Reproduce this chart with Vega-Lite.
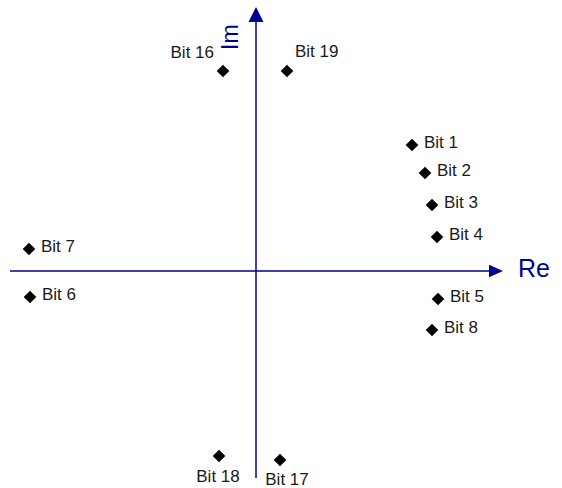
{
  "$schema": "https://vega.github.io/schema/vega-lite/v6.json",
  "width": 562,
  "height": 488,
  "padding": 0,
  "autosize": "none",
  "background": "white",
  "config": {"view": {"stroke": null}},
  "data": {
    "values": [
      {"label": "Bit 1", "re": 156, "im": 126},
      {"label": "Bit 2", "re": 169, "im": 98},
      {"label": "Bit 3", "re": 176, "im": 66},
      {"label": "Bit 4", "re": 181, "im": 34},
      {"label": "Bit 5", "re": 182, "im": -28},
      {"label": "Bit 6", "re": -226, "im": -26},
      {"label": "Bit 7", "re": -227, "im": 22},
      {"label": "Bit 8", "re": 176, "im": -59},
      {"label": "Bit 16", "re": -33, "im": 200},
      {"label": "Bit 17", "re": 24, "im": -189},
      {"label": "Bit 18", "re": -37, "im": -185},
      {"label": "Bit 19", "re": 31, "im": 200}
    ]
  },
  "layer": [
    {
      "data": {"values": [{}]},
      "mark": {"type": "rule", "color": "#000090", "strokeWidth": 1.5},
      "encoding": {
        "x": {"datum": -246, "type": "quantitative", "scale": {"domain": [-256, 306], "nice": false, "zero": false}, "axis": null},
        "x2": {"datum": 234},
        "y": {"datum": 0, "type": "quantitative", "scale": {"domain": [-217, 271], "nice": false, "zero": false}, "axis": null}
      }
    },
    {
      "data": {"values": [{}]},
      "mark": {"type": "rule", "color": "#000090", "strokeWidth": 1.5},
      "encoding": {
        "x": {"datum": 0, "type": "quantitative"},
        "y": {"datum": -207, "type": "quantitative"},
        "y2": {"datum": 250}
      }
    },
    {
      "data": {"values": [{}]},
      "mark": {"type": "point", "shape": "M1,0L-1,-0.9L-1,0.9Z", "filled": true, "color": "#000090", "size": 196, "opacity": 1},
      "encoding": {
        "x": {"datum": 240, "type": "quantitative"},
        "y": {"datum": 0, "type": "quantitative"}
      }
    },
    {
      "data": {"values": [{}]},
      "mark": {"type": "point", "shape": "M0,-1L1,1L-1,1Z", "filled": true, "color": "#000090", "size": 225, "opacity": 1},
      "encoding": {
        "x": {"datum": 0, "type": "quantitative"},
        "y": {"datum": 256.5, "type": "quantitative"}
      }
    },
    {
      "data": {"values": [{}]},
      "mark": {"type": "text", "text": "Re", "font": "Liberation Sans", "fontSize": 25, "color": "#000090", "align": "left", "baseline": "alphabetic"},
      "encoding": {
        "x": {"datum": 262, "type": "quantitative"},
        "y": {"datum": -6, "type": "quantitative"}
      }
    },
    {
      "data": {"values": [{}]},
      "mark": {"type": "text", "text": "Im", "font": "Liberation Sans", "fontSize": 23, "color": "#000090", "align": "left", "baseline": "alphabetic", "angle": 270},
      "encoding": {
        "x": {"datum": -18, "type": "quantitative"},
        "y": {"datum": 221, "type": "quantitative"}
      }
    },
    {
      "mark": {"type": "point", "shape": "diamond", "filled": true, "color": "black", "size": 160, "opacity": 1},
      "encoding": {
        "x": {"field": "re", "type": "quantitative"},
        "y": {"field": "im", "type": "quantitative"}
      }
    },
    {
      "transform": [{"filter": {"field": "label", "oneOf": ["Bit 1", "Bit 2", "Bit 3", "Bit 4", "Bit 5", "Bit 6", "Bit 7", "Bit 8"]}}],
      "mark": {"type": "text", "font": "Liberation Sans", "fontSize": 17, "color": "#1a1a1a", "align": "left", "baseline": "alphabetic", "dx": 12, "dy": 3},
      "encoding": {
        "x": {"field": "re", "type": "quantitative"},
        "y": {"field": "im", "type": "quantitative"},
        "text": {"field": "label"}
      }
    },
    {
      "transform": [{"filter": {"field": "label", "equal": "Bit 16"}}],
      "mark": {"type": "text", "font": "Liberation Sans", "fontSize": 17, "color": "#1a1a1a", "align": "right", "baseline": "alphabetic", "dx": -9, "dy": -13},
      "encoding": {
        "x": {"field": "re", "type": "quantitative"},
        "y": {"field": "im", "type": "quantitative"},
        "text": {"field": "label"}
      }
    },
    {
      "transform": [{"filter": {"field": "label", "equal": "Bit 19"}}],
      "mark": {"type": "text", "font": "Liberation Sans", "fontSize": 17, "color": "#1a1a1a", "align": "left", "baseline": "alphabetic", "dx": 8, "dy": -14},
      "encoding": {
        "x": {"field": "re", "type": "quantitative"},
        "y": {"field": "im", "type": "quantitative"},
        "text": {"field": "label"}
      }
    },
    {
      "transform": [{"filter": {"field": "label", "equal": "Bit 18"}}],
      "mark": {"type": "text", "font": "Liberation Sans", "fontSize": 17, "color": "#1a1a1a", "align": "center", "baseline": "alphabetic", "dx": -1, "dy": 26},
      "encoding": {
        "x": {"field": "re", "type": "quantitative"},
        "y": {"field": "im", "type": "quantitative"},
        "text": {"field": "label"}
      }
    },
    {
      "transform": [{"filter": {"field": "label", "equal": "Bit 17"}}],
      "mark": {"type": "text", "font": "Liberation Sans", "fontSize": 17, "color": "#1a1a1a", "align": "center", "baseline": "alphabetic", "dx": 7, "dy": 25},
      "encoding": {
        "x": {"field": "re", "type": "quantitative"},
        "y": {"field": "im", "type": "quantitative"},
        "text": {"field": "label"}
      }
    }
  ]
}
